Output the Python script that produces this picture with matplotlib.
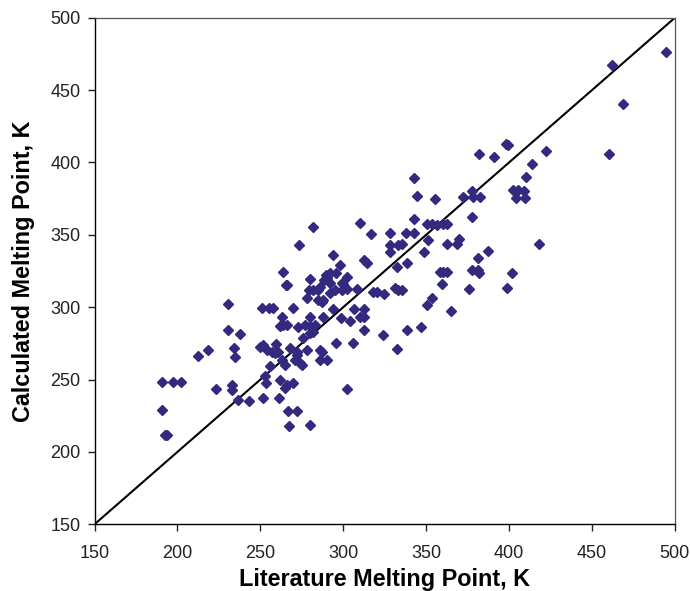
import matplotlib
matplotlib.use("Agg")
import matplotlib.pyplot as plt

# literature vs calculated melting points (K)
lit_mp = [190.9, 197.5, 202.2, 190.9, 192.8, 194.0, 212.3, 218.3, 230.4, 237.6,
          234.3, 234.9, 223.1, 232.9, 232.9, 236.4, 243.0, 251.8, 261.1, 266.5,
          272.0, 267.3, 279.8, 261.9, 265.9, 269.9, 264.9, 252.9, 253.5, 255.9,
          262.9, 264.9, 271.0, 274.0, 275.4, 272.0, 272.3, 286.0, 290.1, 278.0,
          286.0, 287.1, 249.8, 251.8, 253.9, 256.9, 258.9, 260.9, 259.3, 267.9,
          275.6, 280.0, 282.0, 295.5, 282.0, 310.2, 316.8, 328.3, 337.7, 273.2,
          294.1, 298.1, 312.6, 314.2, 328.3, 333.3, 335.3, 328.3, 332.3, 338.3,
          263.9, 265.3, 266.3, 280.0, 289.7, 292.1, 295.7, 288.4, 290.4, 302.1,
          292.1, 299.1, 300.1, 279.2, 282.0, 285.0, 286.0, 292.1, 295.1, 299.1,
          302.1, 308.5, 318.2, 320.2, 324.6, 331.3, 333.3, 335.3, 278.0, 285.0,
          287.1, 288.0, 230.4, 251.2, 255.4, 257.9, 269.9, 294.1, 306.5, 312.6,
          263.1, 280.0, 288.0, 298.5, 304.1, 310.2, 312.6, 261.9, 263.9, 265.9,
          272.9, 277.0, 280.0, 283.0, 312.6, 323.9, 338.3, 342.7, 344.7, 355.4,
          372.1, 377.5, 378.5, 382.6, 342.7, 350.4, 353.4, 356.4, 360.4, 362.5,
          377.5, 342.7, 351.4, 348.8, 362.5, 368.5, 369.9, 387.6, 381.5, 358.4,
          360.4, 362.5, 377.5, 381.5, 382.0, 359.4, 376.1, 353.4, 350.8, 364.9,
          347.0, 305.8, 332.7, 398.2, 399.3, 382.1, 391.0, 422.4, 413.7, 410.3,
          402.6, 405.7, 409.1, 404.3, 409.7, 418.3, 302.1, 401.7, 399.0, 462.0,
          494.8, 468.6, 460.6]
calc_mp = [248.1, 248.1, 248.1, 229.0, 211.7, 211.7, 266.3, 270.4, 284.2, 281.5,
           271.6, 265.8, 243.3, 246.2, 242.8, 235.9, 235.2, 237.5, 237.5, 228.3,
           228.3, 217.9, 218.6, 249.7, 246.2, 247.4, 244.2, 252.5, 247.8, 259.4,
           263.5, 260.1, 263.5, 261.2, 260.1, 269.2, 267.0, 263.5, 263.5, 270.4,
           270.4, 269.2, 272.7, 273.9, 270.4, 269.2, 268.1, 269.2, 274.6, 271.6,
           278.5, 282.0, 283.1, 275.5, 355.6, 358.0, 350.4, 351.0, 351.0, 342.8,
           335.9, 328.9, 332.6, 330.3, 343.0, 343.0, 343.4, 338.3, 328.0, 330.3,
           324.3, 315.3, 315.3, 319.3, 322.2, 323.4, 323.8, 318.8, 320.0, 321.1,
           316.5, 316.9, 316.0, 311.9, 311.9, 311.9, 314.2, 310.0, 311.9, 311.9,
           312.6, 312.4, 310.7, 310.7, 308.9, 313.1, 311.9, 311.9, 306.1, 305.0,
           303.8, 305.0, 302.0, 299.6, 299.6, 299.6, 299.6, 298.7, 298.7, 298.7,
           293.4, 293.4, 293.4, 292.3, 290.5, 293.4, 293.0, 287.0, 287.7, 287.7,
           286.1, 287.7, 287.0, 287.7, 284.2, 280.8, 284.2, 389.0, 377.0, 374.5,
           376.3, 380.5, 376.3, 376.3, 360.7, 357.5, 357.5, 356.8, 357.3, 357.3,
           362.5, 351.5, 346.4, 338.3, 343.7, 343.7, 346.9, 339.0, 333.8, 324.5,
           324.5, 324.5, 325.7, 325.7, 323.8, 315.8, 312.6, 306.1, 301.5, 297.4,
           286.1, 275.5, 271.1, 412.5, 412.1, 405.6, 403.6, 407.9, 398.7, 390.0,
           381.0, 381.0, 380.5, 375.2, 375.2, 343.4, 243.5, 323.8, 313.1, 467.3,
           476.1, 440.4, 405.6]

ticks = [150, 200, 250, 300, 350, 400, 450, 500]

plt.rcParams['font.family'] = ['Liberation Sans', 'DejaVu Sans']

fig = plt.figure(figsize=(6.9, 5.91), dpi=100)
ax = fig.add_axes([0.137, 0.1129, 0.841, 0.857])

ax.plot([150, 500], [150, 500], color='black', lw=1.5, zorder=1)
ax.plot(lit_mp, calc_mp, linestyle='none', marker='D', ms=4.8,
        color='#33297f', mec='#33297f', zorder=2)

ax.set_xlim(150, 500)
ax.set_ylim(150, 500)
ax.set_xticks(ticks)
ax.set_yticks(ticks)
ax.tick_params(direction='out', length=5, width=1, labelsize=13,
               top=False, right=False, colors='#222222')
ax.tick_params(axis='x', pad=10)
ax.tick_params(axis='y', pad=5)
for s in ['top', 'right']:
    ax.spines[s].set_color('#555555')
    ax.spines[s].set_linewidth(0.9)
for s in ['left', 'bottom']:
    ax.spines[s].set_linewidth(1)

ax.set_xlabel('Literature Melting Point, K', fontsize=16.8, fontweight='bold', labelpad=4)
ax.set_ylabel('Calculated Melting Point, K', fontsize=16.8, fontweight='bold', labelpad=11)

fig.savefig('out.png', dpi=100)
